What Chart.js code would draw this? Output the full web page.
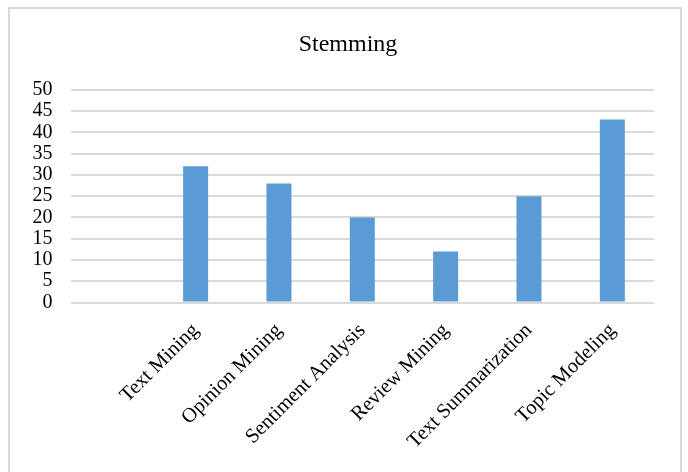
<!DOCTYPE html>
<html>
<head>
<meta charset="utf-8">
<script src="https://cdn.jsdelivr.net/npm/chart.js@4/dist/chart.umd.min.js"></script>
<style>
  html, body { margin: 0; padding: 0; background: #fff; }
  #wrap { position: relative; width: 688px; height: 472px; overflow: hidden; }
  #frame { position: absolute; left: 8px; top: 7px; width: 674px; height: 480px;
           border: 2px solid #d9d9d9; box-sizing: border-box; }
  canvas { position: absolute; left: 0; top: 0; }
</style>
</head>
<body>
<div id="wrap">
  <div id="frame"></div>
  <canvas id="c" width="688" height="472"></canvas>
</div>
<script>
// Stemming counts per text-mining task (first slot left empty)
const categories = ['', 'Text Mining', 'Opinion Mining', 'Sentiment Analysis', 'Review Mining', 'Text Summarization', 'Topic Modeling'];
const stemmingValues = [null, 32, 28, 20, 12, 25, 43];
const yTicks = [0, 5, 10, 15, 20, 25, 30, 35, 40, 45, 50];

const serif = "'Liberation Serif', 'Times New Roman', serif";

new Chart(document.getElementById('c'), {
  type: 'bar',
  data: {
    labels: categories,
    datasets: [{
      label: 'Stemming',
      data: stemmingValues,
      backgroundColor: '#5b9bd5',
      categoryPercentage: 1,
      barPercentage: 0.3,
      yAxisID: 'y'
    }]
  },
  options: {
    responsive: false,
    animation: false,
    layout: { padding: { left: 8, right: 0, top: 0, bottom: 0 } },
    plugins: {
      legend: { display: false },
      tooltip: { enabled: false },
      title: {
        display: true,
        text: 'Stemming',
        color: '#000',
        font: { family: serif, size: 24, weight: 'normal' },
        padding: { top: 30, bottom: 31 }
      }
    },
    scales: {
      x: {
        grid: { display: false },
        border: { display: false },
        ticks: {
          color: '#000',
          font: { family: serif, size: 20.5 },
          minRotation: 45,
          maxRotation: 45,
          autoSkip: false,
          padding: 8
        },
        afterFit(scale) { scale.height = 169.5; }
      },
      y: {
        min: 0,
        max: 50,
        afterBuildTicks(scale) { scale.ticks = yTicks.map(v => ({ value: v })); },
        grid: { color: '#d9d9d9', lineWidth: 2, drawTicks: false },
        border: { display: false },
        ticks: {
          color: '#000',
          font: { family: serif, size: 20 },
          autoSkip: false,
          padding: 18
        },
        afterFit(scale) { scale.width = 62.6; }
      },
      // empty right-hand margin so the plot ends short of the frame
      gutter: {
        position: 'right',
        min: 0,
        max: 50,
        grid: { display: false },
        border: { display: false },
        ticks: { display: false },
        afterFit(scale) { scale.width = 34; }
      }
    }
  }
});
</script>
</body>
</html>
